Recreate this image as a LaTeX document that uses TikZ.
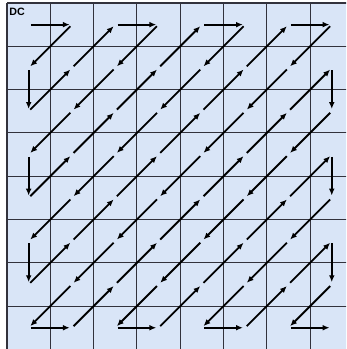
\documentclass[tikz,border=0pt]{standalone}
\usepackage{fontspec}
\setmainfont{Liberation Sans}
\usetikzlibrary{arrows.meta}
\definecolor{cellblue}{RGB}{217,229,247}
\definecolor{gridgray}{RGB}{50,50,60}

\begin{document}
\begin{tikzpicture}[y=-1cm,
    zz/.style={-{Latex[length=4.5pt,width=3.8pt]}, line width=1.2pt, shorten >=1.5pt, shorten <=1.5pt}]

  \useasboundingbox (-0.162,-0.069) rectangle (7.829,7.991);
  \clip (-0.162,-0.069) rectangle (7.829,7.991);
  \fill[white] (-0.162,-0.069) rectangle (7.829,7.991);

  % 8x8 block
  \fill[cellblue] (0,0) rectangle (8,8);
  \draw[gridgray, line width=0.7pt] (0,0) grid (8,8);

  % cell centres
  \foreach \x in {0,...,7}
    \foreach \y in {0,...,7}
      \coordinate (c\x\y) at (\x+0.5,\y+0.5);

  \node[anchor=north west, inner sep=0pt, font=\bfseries\fontsize{7}{8}\selectfont] (dc) at (0.046,0.115) {DC};

  % zigzag scan
  \foreach \c [remember=\c as \p (initially 00)] in
    {10,01,02,11,20,30,21,12,03,04,13,22,31,40,50,41,32,23,14,05,
     06,15,24,33,42,51,60,70,61,52,43,34,25,16,07,17,26,35,44,53,
     62,71,72,63,54,45,36,27,37,46,55,64,73,74,65,56,47,57,66,75,
     76,67,77}
    \draw[zz] (c\p) -- (c\c);

\end{tikzpicture}
\end{document}
